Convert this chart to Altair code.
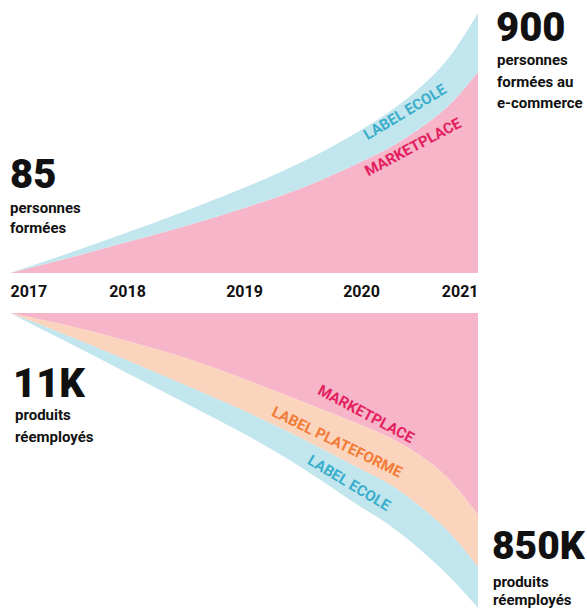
import altair as alt
import pandas as pd

FONT = "Roboto"

years = [2017, 2017.5, 2018, 2018.5, 2019, 2019.5, 2020, 2020.25, 2020.5, 2020.75, 2021]
tick_years = [2017, 2018, 2019, 2020, 2021]

# Top panel: personnes formées au e-commerce (stacked)
top_marketplace = [0, 52, 107, 163, 225, 295, 385, 435, 500, 580, 696]
top_label_ecole = [0, 16, 33, 52, 70, 90, 110, 125, 140, 165, 204]

# Bottom panel: produits réemployés, in thousands (stacked, downward)
bot_marketplace = [0, 37, 81, 130, 190, 256, 323, 360, 409, 478, 582]
bot_plateforme = [0, 29, 55, 78, 92, 107, 127, 135, 147, 153, 150]
bot_ecole = [0, 20, 37, 52, 66, 84, 109, 118, 124, 127, 118]

PINK = "#f7b5c9"
BLUE = "#c2e6ee"
PEACH = "#fbd4bd"
T_PINK = "#e4215f"
T_BLUE = "#3aaecb"
T_ORANGE = "#f27c37"
INK = "#111111"

df_top = pd.DataFrame({
    "year": years + years,
    "value": top_marketplace + top_label_ecole,
    "serie": ["Marketplace"] * len(years) + ["Label Ecole"] * len(years),
    "ordre": [1] * len(years) + [2] * len(years),
})
df_bot = pd.DataFrame({
    "year": years * 3,
    "value": bot_marketplace + bot_plateforme + bot_ecole,
    "serie": ["Marketplace"] * len(years) + ["Label Plateforme"] * len(years) + ["Label Ecole"] * len(years),
    "ordre": [1] * len(years) + [2] * len(years) + [3] * len(years),
})

color_scale = alt.Scale(domain=["Marketplace", "Label Plateforme", "Label Ecole"],
                        range=[PINK, PEACH, BLUE])

W = 468


def label(txt, x, y, size, color=INK, angle=0, weight="bold", align="left", baseline="alphabetic"):
    return alt.Chart(pd.DataFrame({"t": [txt]})).mark_text(
        align=align, baseline=baseline, fontSize=size, fontWeight=weight,
        color=color, angle=angle % 360, font=FONT
    ).encode(x=alt.value(x), y=alt.value(y), text="t:N")


top_area = alt.Chart(df_top).mark_area(interpolate="monotone").encode(
    x=alt.X("year:Q", scale=alt.Scale(domain=[2017, 2021], nice=False, zero=False),
            axis=alt.Axis(values=tick_years, format="d", title=None, ticks=False, domain=False,
                          grid=False, labelFlush=True, labelPadding=10, labelFontSize=16,
                          labelFontWeight="bold", labelColor=INK, labelFont=FONT)),
    y=alt.Y("value:Q", stack="zero", scale=alt.Scale(domain=[0, 900], nice=False), axis=None),
    color=alt.Color("serie:N", scale=color_scale, legend=None),
    order=alt.Order("ordre:Q"),
)

top = alt.layer(
    top_area,
    label("85", 0, 175, 40, weight=900),
    label("personnes", 0, 200, 15),
    label("formées", 0, 220, 15),
    label("900", 486, 28, 40, weight=900),
    label("personnes", 487, 52, 15),
    label("formées au", 487, 74, 15),
    label("e-commerce", 487, 95, 15),
    label("LABEL ECOLE", 395, 99, 15, color=T_BLUE, angle=-31, align="center", baseline="middle"),
    label("MARKETPLACE", 403, 134, 15, color=T_PINK, angle=-28, align="center", baseline="middle"),
).properties(width=W, height=260)

bot_area = alt.Chart(df_bot).mark_area(interpolate="monotone").encode(
    x=alt.X("year:Q", scale=alt.Scale(domain=[2017, 2021], nice=False, zero=False), axis=None),
    y=alt.Y("value:Q", stack="zero", scale=alt.Scale(domain=[0, 850], nice=False, reverse=True), axis=None),
    color=alt.Color("serie:N", scale=color_scale, legend=None),
    order=alt.Order("ordre:Q"),
)

bottom = alt.layer(
    bot_area,
    label("11K", 3, 84, 40, weight=900),
    label("produits", 5, 107, 15),
    label("réemployés", 5, 129, 15),
    label("850K", 482, 246, 39, weight=900),
    label("produits", 483, 274, 15),
    label("réemployés", 483, 292, 15),
    label("MARKETPLACE", 356, 101, 15, color=T_PINK, angle=28, align="center", baseline="middle"),
    label("LABEL PLATEFORME", 327, 129, 15, color=T_ORANGE, angle=26, align="center", baseline="middle"),
    label("LABEL ECOLE", 339, 170, 15, color=T_BLUE, angle=31, align="center", baseline="middle"),
).properties(width=W, height=295)

chart = alt.vconcat(top, bottom, spacing=14).properties(
    padding={"left": 10, "top": 9, "right": 0, "bottom": 0},
    background="white",
).configure_view(stroke=None)

chart.save("out.html", embed_options={"renderer": "svg", "actions": False})
